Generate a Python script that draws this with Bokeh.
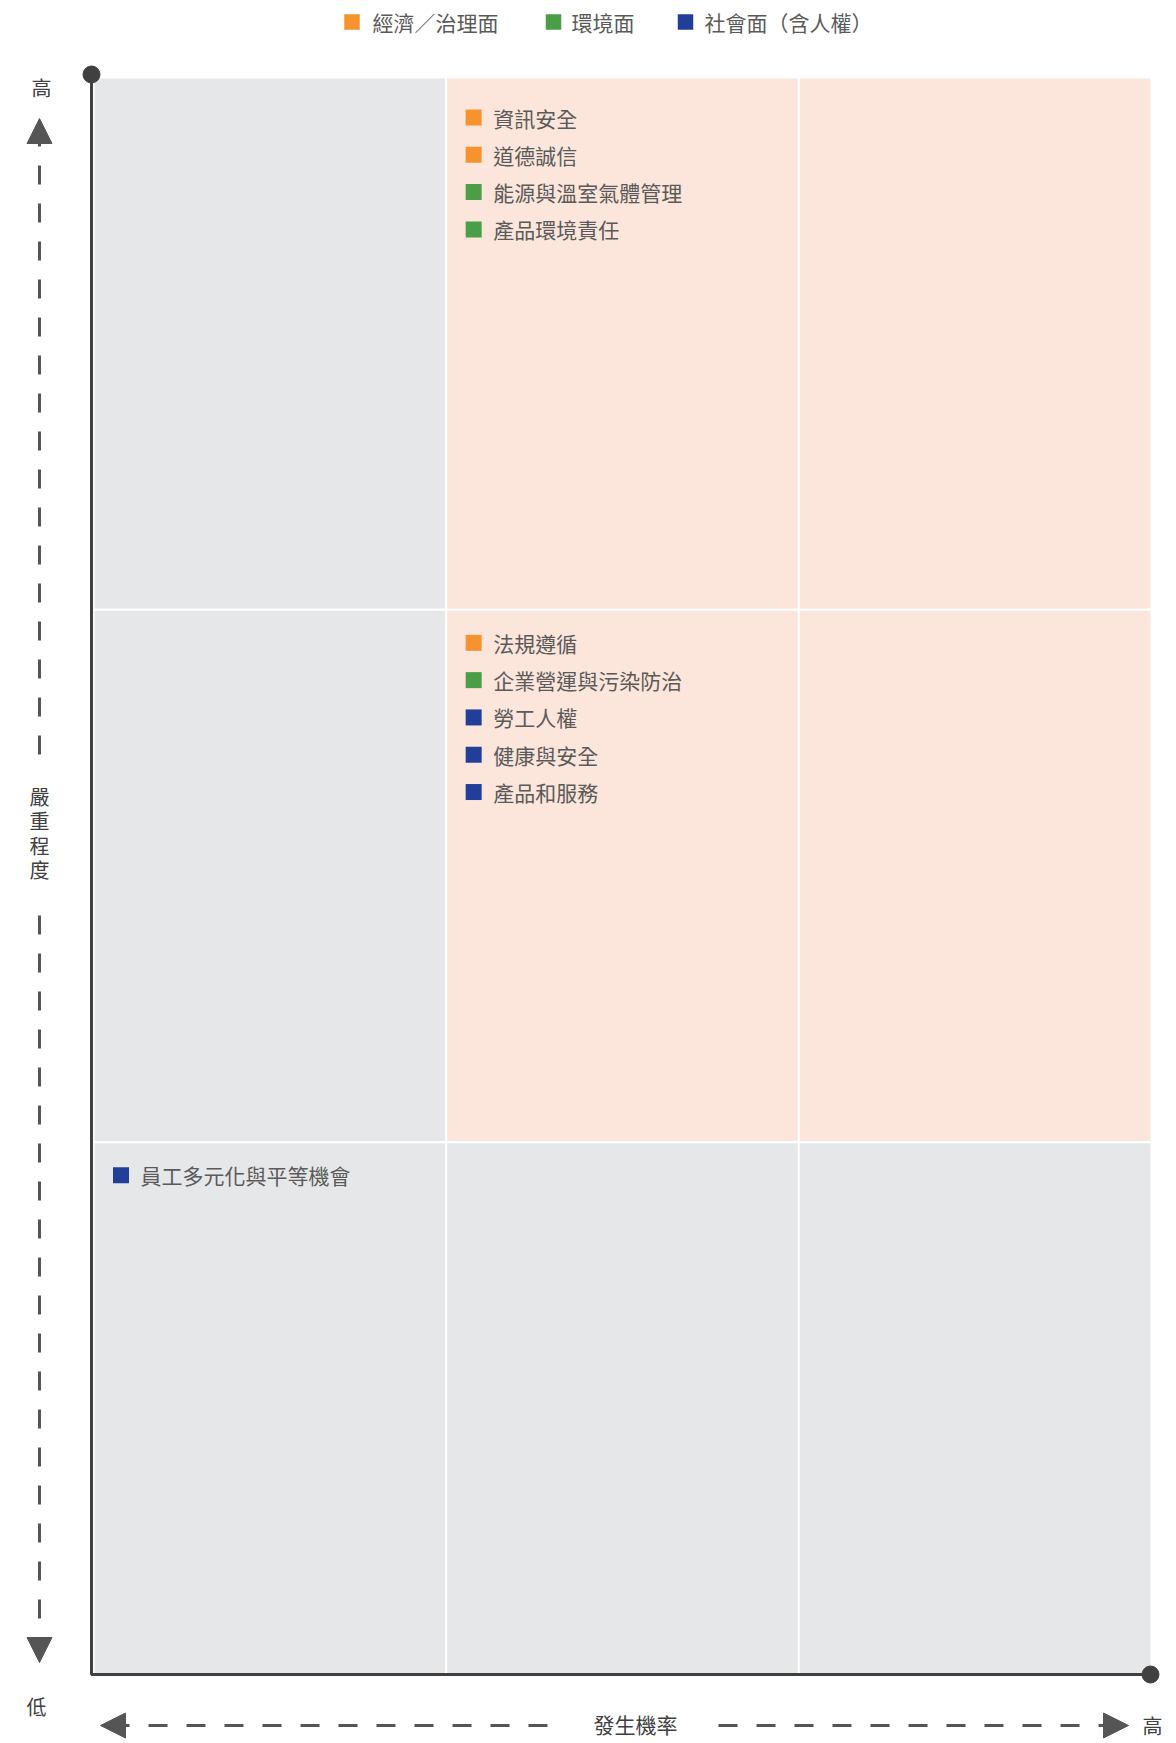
from bokeh.plotting import figure
from bokeh.models import Range1d, Arrow, NormalHead
from bokeh.core.properties import value
from bokeh.embed import file_html
from bokeh.resources import INLINE

# ---------------- data ----------------
categories = ["經濟／治理面", "環境面", "社會面（含人權）"]
category_colors = ["#F7932F", "#4A9E45", "#213F99"]

# matrix cells: likelihood column (0 低 .. 2 高), severity row (0 低 .. 2 高)
cell_likelihood = [0, 1, 2, 0, 1, 2, 0, 1, 2]
cell_severity = [2, 2, 2, 1, 1, 1, 0, 0, 0]
cell_risk = ["一般", "重大", "重大", "一般", "重大", "重大", "一般", "一般", "一般"]
risk_levels = ["一般", "重大"]
risk_colors = ["#E6E7E9", "#FCE5DB"]

topics = ["資訊安全", "道德誠信", "能源與溫室氣體管理", "產品環境責任",
          "法規遵循", "企業營運與污染防治", "勞工人權", "健康與安全", "產品和服務",
          "員工多元化與平等機會"]
topic_category = ["經濟／治理面", "經濟／治理面", "環境面", "環境面",
                  "經濟／治理面", "環境面", "社會面（含人權）", "社會面（含人權）", "社會面（含人權）",
                  "社會面（含人權）"]
topic_likelihood = [1, 1, 1, 1, 1, 1, 1, 1, 1, 0]
topic_severity = [2, 2, 2, 2, 1, 1, 1, 1, 1, 0]

x_title = "發生機率"
y_title = "嚴重程度"
low_label = "低"
high_label = "高"

# ---------------- layout ----------------
W, H = 1176, 1743
X0, X1, YT, YB = 93.0, 1151.0, 77.0, 1674.0   # matrix frame in page pixels
ux = (X1 - X0) / 3.0
uy = (YB - YT) / 3.0


def px(x):
    return (x - X0) / ux


def py(y):
    return (YB - y) / uy


FONT = value("Noto Sans CJK TC")
TEXT_COLOR = "#5A5A5A"
AXIS_COLOR = "#404040"
ARROW_COLOR = "#555555"

p = figure(width=W, height=H,
           x_range=Range1d(px(0), px(W)), y_range=Range1d(py(H), py(0)),
           output_backend="svg", toolbar_location=None, min_border=0,
           x_axis_location=None, y_axis_location=None,
           outline_line_color=None, background_fill_color="white",
           border_fill_color="white")
p.grid.visible = False

# cells
risk_map = dict(zip(risk_levels, risk_colors))
p.quad(left=cell_likelihood, right=[c + 1 for c in cell_likelihood],
       bottom=cell_severity, top=[r + 1 for r in cell_severity],
       fill_color=[risk_map[r] for r in cell_risk],
       line_color="white", line_width=2)

# axis frame lines and end dots
p.line(x=[px(91), px(91), px(1150)], y=[py(74), py(YB), py(YB)],
       line_color=AXIS_COLOR, line_width=3)
p.scatter(x=[px(91), px(1150)], y=[py(74), py(YB)], size=17,
          fill_color=AXIS_COLOR, line_color=AXIS_COLOR)

# topics inside cells
cat_map = dict(zip(categories, category_colors))
rank = []
seen = {}
for c, r in zip(topic_likelihood, topic_severity):
    k = (c, r)
    rank.append(seen.get(k, 0))
    seen[k] = seen.get(k, 0) + 1

PAD_X = 27.5
PAD_Y_TOP_ROW = 40.0
PAD_Y_OTHER = 33.0
STEP = 37.3
sq_x = [c + PAD_X / ux for c in topic_likelihood]
sq_y = [r + 1 - ((PAD_Y_TOP_ROW if r == 2 else PAD_Y_OTHER) + k * STEP) / uy
        for r, k in zip(topic_severity, rank)]
p.scatter(x=sq_x, y=sq_y, marker="square", size=16,
          fill_color=[cat_map[c] for c in topic_category], line_color=None)
p.text(x=[x + 19.5 / ux for x in sq_x], y=sq_y, text=topics,
       text_font=FONT, text_font_size="21px", text_color=TEXT_COLOR,
       text_align="left", text_baseline="middle")

# legend on top
leg_sq_px = [351.5, 553, 685]
leg_tx_px = [372, 571, 704]
LEG_Y = 21.5
p.scatter(x=[px(v) for v in leg_sq_px], y=[py(LEG_Y)] * 3, marker="square", size=15.5,
          fill_color=category_colors, line_color=None)
p.text(x=[px(v) for v in leg_tx_px], y=[py(LEG_Y)] * 3, text=categories,
       text_font=FONT, text_font_size="21px", text_color=TEXT_COLOR,
       text_align="left", text_baseline="middle")

# dashed arrows
def arrow(x0, y0, x1, y1):
    p.add_layout(Arrow(end=NormalHead(size=25, fill_color=ARROW_COLOR,
                                      line_color=ARROW_COLOR, line_width=1),
                       x_start=px(x0), y_start=py(y0), x_end=px(x1), y_end=py(y1),
                       line_color=ARROW_COLOR, line_width=3, line_dash="19 19"))


arrow(39, 754, 39, 118)
arrow(39, 915, 39, 1662)
arrow(547, 1725, 100, 1725)
arrow(718, 1725, 1128, 1725)

# axis end labels
p.text(x=[px(41), px(36), px(1152)], y=[py(87), py(1706), py(1725)],
       text=[high_label, low_label, high_label],
       text_font=FONT, text_font_size="20px", text_color=AXIS_COLOR,
       text_align="center", text_baseline="middle")

# axis titles
p.text(x=[px(635)], y=[py(1723)], text=[x_title],
       text_font=FONT, text_font_size="21px", text_color=AXIS_COLOR,
       text_align="center", text_baseline="middle")
y_chars = list(y_title)
p.text(x=[px(39)] * len(y_chars), y=[py(796 + 24.4 * i) for i in range(len(y_chars))],
       text=y_chars, text_font=FONT, text_font_size="20px", text_color=AXIS_COLOR,
       text_align="center", text_baseline="middle")

open("out.html", "w").write(file_html(p, INLINE))
